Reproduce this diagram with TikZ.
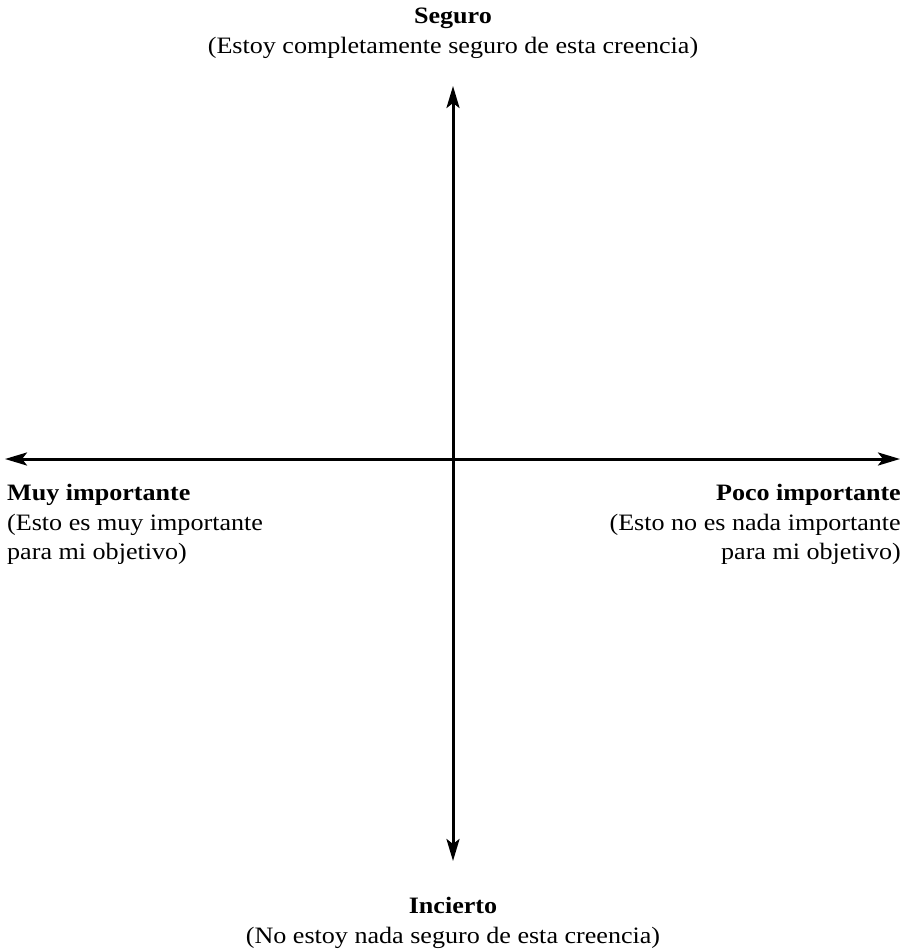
\documentclass[tikz,border=0pt]{standalone}
\usepackage{fontspec}
\setmainfont[FakeStretch=1.11]{Liberation Serif}
\usetikzlibrary{arrows.meta}
\begin{document}
\begin{tikzpicture}[x=1pt,y=-1pt,
  tip/.tip={Stealth[length=22pt,width=13pt,inset=5pt]},
  axis/.style={line width=3pt,tip-tip},
  lbl/.style={inner sep=0pt,font=\fontsize{23.5}{29.5}\selectfont}]
\useasboundingbox (0,0) rectangle (902,950);
\coordinate (L) at (5,459);
\coordinate (R) at (900,459);
\coordinate (T) at (453,86);
\coordinate (B) at (453,861);
\draw[axis] (L) -- (R);
\draw[axis] (T) -- (B);
\node[lbl,anchor=north,align=center] (seg) at (453,8) {\textbf{Seguro}\\(Estoy completamente seguro de esta creencia)};
\node[lbl,anchor=north,align=center] (inc) at (453,897) {\textbf{Incierto}\\(No estoy nada seguro de esta creencia)};
\node[lbl,anchor=north west,align=left] (muy) at (7,484) {\textbf{Muy importante}\\(Esto es muy importante\\para mi objetivo)};
\node[lbl,anchor=north east,align=right] (poco) at (901,484) {\textbf{Poco importante}\\(Esto no es nada importante\\para mi objetivo)};
\end{tikzpicture}
\end{document}
